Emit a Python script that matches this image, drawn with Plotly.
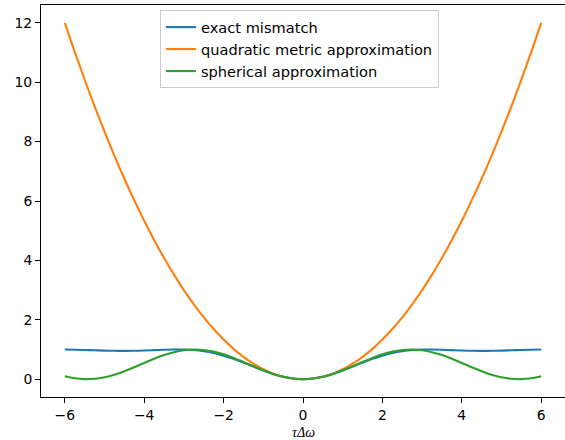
import plotly.graph_objects as go

x_vals = [-6.0, -5.75, -5.5, -5.25, -5.0, -4.75, -4.5, -4.25, -4.0, -3.75, -3.5, -3.25,
          -3.0, -2.75, -2.5, -2.25, -2.0, -1.75, -1.5, -1.25, -1.0, -0.75, -0.5, -0.25,
          0.0, 0.25, 0.5, 0.75, 1.0, 1.25, 1.5, 1.75, 2.0, 2.25, 2.5, 2.75,
          3.0, 3.25, 3.5, 3.75, 4.0, 4.25, 4.5, 4.75, 5.0, 5.25, 5.5, 5.75, 6.0]

exact_mismatch = [0.9978, 0.9922, 0.9835, 0.9732, 0.9632, 0.9557, 0.9528, 0.9557, 0.9642, 0.9768,
                  0.9900, 0.9989, 0.9978, 0.9807, 0.9427, 0.8804, 0.7933, 0.6838, 0.5578, 0.4236,
                  0.2919, 0.1740, 0.0806, 0.0207, 0.0,
                  0.0207, 0.0806, 0.1740, 0.2919, 0.4236, 0.5578, 0.6838, 0.7933, 0.8804, 0.9427,
                  0.9807, 0.9978, 0.9989, 0.9900, 0.9768, 0.9642, 0.9557, 0.9528, 0.9557, 0.9632,
                  0.9732, 0.9835, 0.9922, 0.9978]

quadratic_approx = [12.0, 11.0208, 10.0833, 9.1875, 8.3333, 7.5208, 6.75, 6.0208, 5.3333, 4.6875,
                    4.0833, 3.5208, 3.0, 2.5208, 2.0833, 1.6875, 1.3333, 1.0208, 0.75, 0.5208,
                    0.3333, 0.1875, 0.0833, 0.0208, 0.0,
                    0.0208, 0.0833, 0.1875, 0.3333, 0.5208, 0.75, 1.0208, 1.3333, 1.6875, 2.0833,
                    2.5208, 3.0, 3.5208, 4.0833, 4.6875, 5.3333, 6.0208, 6.75, 7.5208, 8.3333,
                    9.1875, 10.0833, 11.0208, 12.0]

spherical_approx = [0.1005, 0.0314, 0.0011, 0.0122, 0.0642, 0.1516, 0.2668, 0.4027, 0.5469, 0.6885,
                    0.8122, 0.9101, 0.9742, 0.9997, 0.9839, 0.9282, 0.8366, 0.7177, 0.5803, 0.4364,
                    0.2979, 0.1761, 0.0811, 0.0207, 0.0,
                    0.0207, 0.0811, 0.1761, 0.2979, 0.4364, 0.5803, 0.7177, 0.8366, 0.9282, 0.9839,
                    0.9997, 0.9742, 0.9101, 0.8122, 0.6885, 0.5469, 0.4027, 0.2668, 0.1516, 0.0642,
                    0.0122, 0.0011, 0.0314, 0.1005]

series_names = ["exact mismatch", "quadratic metric approximation", "spherical approximation"]
series_colors = ["#1f77b4", "#ff7f0e", "#2ca02c"]

x_ticks = [-6, -4, -2, 0, 2, 4, 6]
x_ticklabels = ["\u22126", "\u22124", "\u22122", "0", "2", "4", "6"]
y_ticks = [0, 2, 4, 6, 8, 10, 12]
y_ticklabels = ["0", "2", "4", "6", "8", "10", "12"]
x_label = "\u03c4\u0394\u03c9"

fig = go.Figure()
for name, ys, col in zip(series_names, [exact_mismatch, quadratic_approx, spherical_approx], series_colors):
    fig.add_trace(go.Scatter(x=x_vals, y=ys, mode="lines", name=name,
                             line=dict(color=col, width=2.1, shape="spline")))

fig.update_layout(
    width=565, height=440,
    margin=dict(l=41, r=0, t=5, b=43, autoexpand=False),
    plot_bgcolor="white", paper_bgcolor="white",
    font=dict(family="DejaVu Sans", size=13.9, color="black"),
    showlegend=True,
    legend=dict(x=0.227, y=0.987, xanchor="left", yanchor="top",
                bordercolor="#cccccc", borderwidth=1, bgcolor="rgba(255,255,255,0.8)",
                font=dict(size=14.6)),
    annotations=[dict(text="<i>" + x_label + "</i>", xref="paper", yref="paper",
                      x=0.5, y=-0.09, xanchor="center", yanchor="middle", showarrow=False,
                      font=dict(family="Liberation Serif", size=14, color="black"))],
)
fig.update_xaxes(range=[-6.6, 6.6], tickvals=x_ticks, ticktext=x_ticklabels, automargin=False,
                 ticks="outside", ticklen=5, tickwidth=1, tickcolor="black",
                 showline=True, linecolor="black", linewidth=1, mirror=True,
                 showgrid=False, zeroline=False)
fig.update_yaxes(range=[-0.6, 12.6], tickvals=y_ticks, ticktext=y_ticklabels, automargin=False,
                 ticks="outside", ticklen=5, tickwidth=1, tickcolor="black",
                 showline=True, linecolor="black", linewidth=1, mirror=False,
                 showgrid=False, zeroline=False)

fig.write_html("out.html", config={"displayModeBar": False},
               post_script="document.body.style.margin='0';document.body.style.overflow='hidden';")
